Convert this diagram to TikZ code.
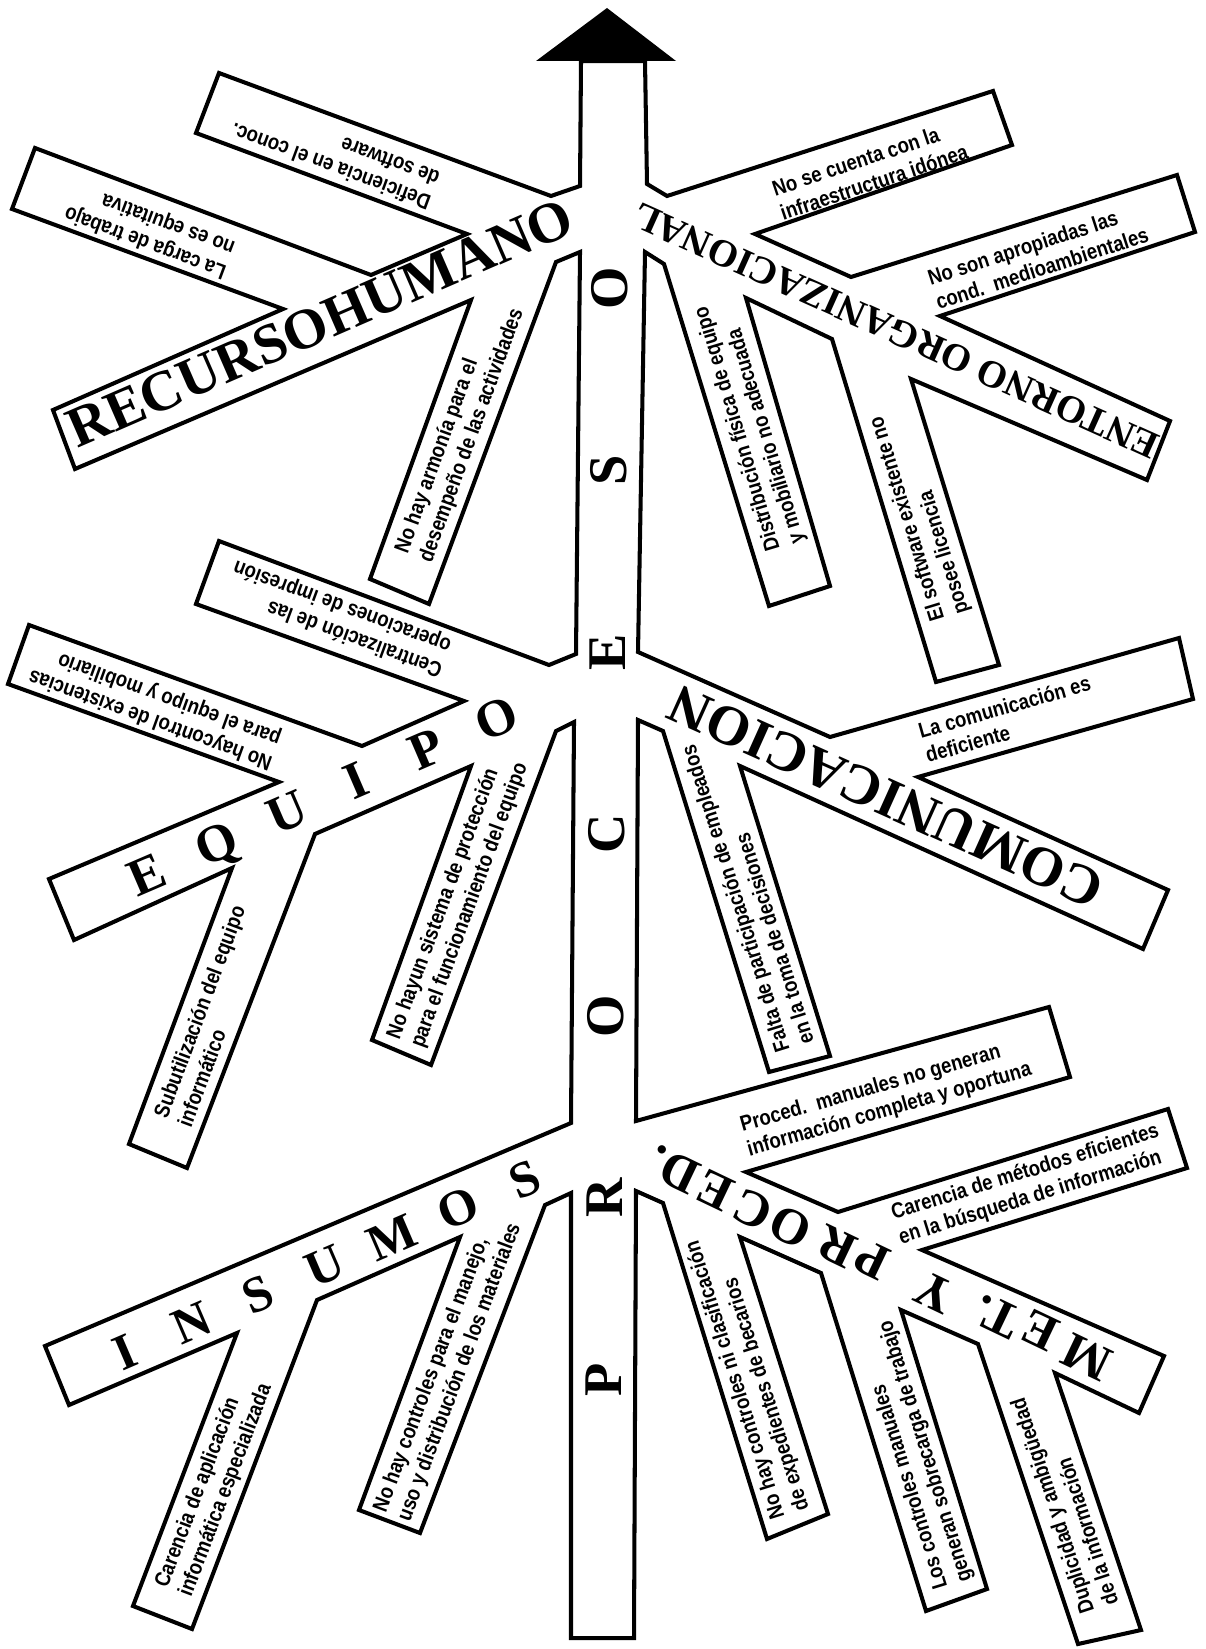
\documentclass[tikz,border=0pt]{standalone}
\usepackage{fontspec}
\usepackage{tikz}
\usetikzlibrary{calc}
\newfontfamily\bonefont{Liberation Serif}
\newfontfamily\causefont[FakeStretch=0.86]{Liberation Sans Bold}

\begin{document}
\begin{tikzpicture}[
    x=0.02cm,y=-0.02cm,
    outline/.style={line width=2.3pt,line join=miter},
    bone/.style={font=\bonefont\bfseries\fontsize{#1}{#1}\selectfont,inner sep=0pt},
    cause/.style={font=\causefont\fontsize{12.3}{14.5}\selectfont,
                  align=left,inner sep=0pt}
]
    \useasboundingbox (0,0) rectangle (1205,1649);

    % One closed outline: spine, the six bones and every cause box.
    \draw[outline]
        (581,61) -- (580,186)
        % recurso humano, upper causes
        -- (551,196) -- (219,73) -- (196,133) -- (467,234)
        -- (371,275) -- (35,148) -- (12,209) -- (283,309)
        -- (53,410) -- (75,469) -- (471,300)
        -- (370,579) -- (429,604) -- (556,262) -- (580,252)
        -- (576,654)
        % equipo
        -- (549,665) -- (219,541) -- (196,604) -- (464,701)
        -- (362,746) -- (29,625) -- (8,684) -- (279,782)
        -- (49,879) -- (74,940) -- (232,868)
        -- (129,1144) -- (187,1168) -- (315,834)
        -- (471,766) -- (372,1040) -- (431,1065) -- (556,731) -- (574,722)
        -- (571,1123)
        % insumos
        -- (45,1346) -- (69,1405) -- (237,1333)
        -- (133,1606) -- (192,1629) -- (317,1300)
        -- (460,1237) -- (359,1510) -- (420,1533) -- (545,1205) -- (571,1193)
        -- (571,1638) -- (634,1638) -- (636,1191)
        % metodos y procedimientos
        -- (663,1203) -- (767,1539) -- (828,1514) -- (740,1237)
        -- (821,1273) -- (926,1611) -- (987,1589) -- (901,1310)
        -- (978,1344) -- (1078,1644) -- (1141,1630) -- (1055,1373)
        -- (1139,1413) -- (1164,1356)
        -- (922,1250) -- (1187,1168) -- (1168,1109) -- (838,1212)
        -- (746,1172) -- (1070,1077) -- (1049,1007) -- (636,1121)
        -- (638,720)
        % comunicacion
        -- (663,731) -- (769,1072) -- (830,1056) -- (740,766)
        -- (1143,949) -- (1168,890)
        -- (918,777) -- (1193,699) -- (1179,638) -- (830,737)
        -- (638,652) -- (645,252)
        % entorno organizacional
        -- (664,264) -- (769,606) -- (830,586) -- (746,298)
        -- (832,339) -- (936,682) -- (999,665) -- (911,379)
        -- (1147,480) -- (1170,421)
        -- (940,316) -- (1195,232) -- (1177,175) -- (851,277)
        -- (755,234) -- (1012,145) -- (993,91) -- (667,196) -- (647,184)
        -- (645,61) -- cycle;

    % Arrow head on top of the spine.
    \fill (536,61) -- (607,8) -- (676,61) -- cycle;

    % Spine and bone names.
    \coordinate (procesoS) at (603,1380);
    \coordinate (procesoE) at (609,288);
    \foreach \ch [count=\i from 0] in {P,R,O,C,E,S,O}
        \node[bone=31,rotate=90,text height=21pt,text depth=0pt]
            (proceso\i) at ($(procesoS)!\i/6!(procesoE)$) {\ch};

    \node[bone=32.5,rotate=23.5] (recurso) at (320,323) {RECURSOHUMANO};
    \node[bone=22,rotate=155.8] (entorno) at (896,331) {ENTORNO ORGANIZACIONAL};
    \node[bone=32,rotate=155.8] (comunica) at (886,797) {COMUNICACION};

    \coordinate (equipoS) at (147,874);
    \coordinate (equipoE) at (496,718);
    \foreach \ch [count=\i from 0] in {E,Q,U,I,P,O}
        \node[bone=30,rotate=23.3,text height=20pt,text depth=0pt]
            (equipo\i) at ($(equipoS)!\i/5!(equipoE)$) {\ch};

    \coordinate (insumoS) at (125,1352);
    \coordinate (insumoE) at (525,1180);
    \foreach \ch [count=\i from 0] in {I,N,S,U,M,O,S}
        \node[bone=29,rotate=23.3,text height=19pt,text depth=0pt]
            (insumo\i) at ($(insumoS)!\i/6!(insumoE)$) {\ch};

    \foreach \ch/\px/\py [count=\i] in {M/1087/1357,E/1040/1330,T/1002/1318,
            ./982/1312,Y/935/1293,P/872/1260,R/837/1247,O/790/1227,
            C/753/1210,E/715/1190,D/680/1173,./657/1162}
        \node[bone=29,rotate=154.5,text height=19pt,text depth=0pt]
            (metodo\i) at (\px,\py) {\ch};

    % Causes, upper left.
    \node[cause,rotate=159.7] (deficiencia) at (335,155) {Deficiencia en el conoc.\\de software};
    \node[cause,rotate=159.5] (carga) at (150,230) {La carga de trabajo\\no es equitativa};
    \node[cause,rotate=70] (armonia) at (460,431) {No hay armonía para el\\desempeño de las actividades};

    % Causes, upper right.
    \node[cause,rotate=18.5] (infra) at (870,170) {No se cuenta con la\\infraestructura idónea};
    \node[cause,rotate=18] (condic) at (1038,256) {No son apropiadas las\\cond.\ \ medioambientales};
    \node[cause,rotate=106.7] (distrib) at (750,425) {Distribución física de equipo\\y mobiliario no adecuada};
    \node[cause,rotate=107] (licencia) at (920,515) {El software existente no\\posee licencia};

    % Causes, middle left.
    \node[cause,rotate=159.7] (central) at (338,618) {Centralización de las\\operaciones de impresión};
    \node[cause,rotate=160] (control) at (155,707) {No haycontrol de existencias\\para el equipo y mobiliario};
    \node[cause,rotate=69.5] (subutil) at (211,1016) {Subutilización del equipo\\informático};
    \node[cause,rotate=69.8] (protec) at (458,901) {No hayun sistema de protección\\para el funcionamiento del equipo};

    % Causes, middle right.
    \node[cause,rotate=15.8] (deficiente) at (1008,719) {La comunicación es\\deficiente};
    \node[cause,rotate=107.3] (falta) at (747,895) {Falta de participación de empleados\\en la toma de decisiones};

    % Causes, lower left.
    \node[cause,rotate=69.2] (aplica) at (214,1486) {Carencia de aplicación\\informática especializada};
    \node[cause,rotate=69.5] (materia) at (448,1368) {No hay controles para el manejo,\\uso y distribución de los materiales};

    % Causes, lower right.
    \node[cause,rotate=16] (manual) at (886,1098) {Proced.\ \ manuales no generan\\información completa y oportuna};
    \node[cause,rotate=17.3] (busqueda) at (1029,1185) {Carencia de métodos eficientes\\en la búsqueda de información};
    \node[cause,rotate=107.4] (becario) at (748,1376) {No hay controles ni clasificación\\de expedientes de becarios};
    \node[cause,rotate=107.2] (sobrecarga) at (914,1455) {Los controles manuales\\generan sobrecarga de trabajo};
    \node[cause,rotate=108.2] (duplic) at (1064,1502) {Duplicidad y ambigüedad\\de la información};
\end{tikzpicture}
\end{document}
